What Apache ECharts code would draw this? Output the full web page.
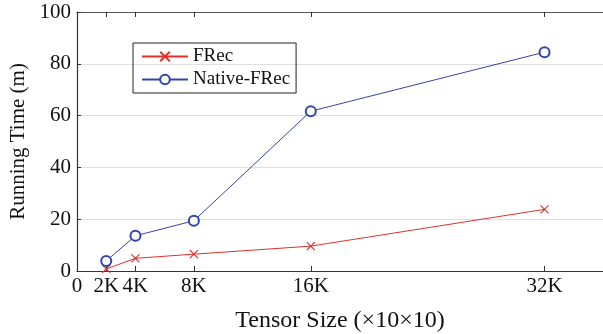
<!DOCTYPE html>
<html>
<head>
<meta charset="utf-8">
<script src="https://cdn.jsdelivr.net/npm/echarts@6/dist/echarts.min.js"></script>
<style>
html, body { margin: 0; padding: 0; background: #fff; }
#chart { width: 603px; height: 334px; }
</style>
</head>
<body>
<div id="chart"></div>
<script>
// tensor sizes (K) and running time in minutes
var sizes = [2000, 4000, 8000, 16000, 32000];
var tickValues = [0, 2000, 4000, 8000, 16000, 32000];
var frec = [0.8, 4.9, 6.5, 9.6, 23.8];
var nativeFrec = [3.9, 13.6, 19.4, 61.7, 84.5];

function pairs(xs, ys) {
	var out = [];
	for (var i = 0; i < xs.length; i++) {
		out.push([xs[i], ys[i]]);
	}
	return out;
}

var font = 'Liberation Serif';
var red = '#e0302a';
var blue = '#3344aa';
var chart = echarts.init(document.getElementById('chart'));
var option = {
	animation: false,
	textStyle: { fontFamily: font },
	grid: { left: 77, right: 0, top: 12, bottom: 63, containLabel: false, outerBoundsMode: 'none' },
	legend: {
		left: 133, top: 43,
		orient: 'vertical',
		itemWidth: 46, itemHeight: 12, itemGap: 4,
		padding: [4, 6, 4, 8],
		borderColor: '#222', borderWidth: 1,
		textStyle: { fontFamily: font, fontSize: 19, color: '#111' },
		data: ['FRec', 'Native-FRec']
	},
	xAxis: [{
		type: 'value', min: 0, max: 36000,
		name: 'Tensor Size (×10×10)', nameLocation: 'middle', nameGap: 38,
		nameTextStyle: { fontFamily: font, fontSize: 24, color: '#111' },
		axisLine: { lineStyle: { color: '#333', width: 1.2 } },
		axisTick: { inside: true, length: 5, customValues: tickValues, lineStyle: { color: '#333' } },
		axisLabel: {
			customValues: tickValues, fontFamily: font, fontSize: 21, color: '#111', margin: 5,
			formatter: function (v) { return v === 0 ? '0' : (v / 1000) + 'K'; }
		},
		splitLine: { show: false }
	}, {
		type: 'value', position: 'top', min: 0, max: 36000,
		axisLine: { show: true, onZero: false, lineStyle: { color: '#555', width: 1.2 } },
		axisTick: { inside: true, length: 5, customValues: tickValues, lineStyle: { color: '#333' } },
		axisLabel: { show: false },
		splitLine: { show: false }
	}],
	yAxis: {
		type: 'value', min: 0, max: 100, interval: 20,
		name: 'Running Time (m)', nameLocation: 'middle', nameGap: 46,
		nameTextStyle: { fontFamily: font, fontSize: 21, color: '#111' },
		axisLine: { show: true, lineStyle: { color: '#333', width: 1.2 } },
		axisTick: { show: true, inside: true, length: 4, lineStyle: { color: '#333' } },
		axisLabel: { fontFamily: font, fontSize: 21, color: '#111', margin: 6 },
		splitLine: { show: true, lineStyle: { color: '#e0e0e0', width: 1 } }
	},
	series: [{
		name: 'FRec', type: 'line',
		data: pairs(sizes, frec),
		symbol: 'path://M0,0 L10,10 M10,0 L0,10', symbolSize: 8,
		lineStyle: { width: 1, color: red },
		itemStyle: { color: red, borderColor: red, borderWidth: 1.2 }
	}, {
		name: 'Native-FRec', type: 'line',
		data: pairs(sizes, nativeFrec),
		symbol: 'emptyCircle', symbolSize: 10,
		lineStyle: { width: 1, color: blue },
		itemStyle: { color: blue, borderColor: blue, borderWidth: 1.2 }
	}]
};
chart.setOption(option);
</script>
</body>
</html>
